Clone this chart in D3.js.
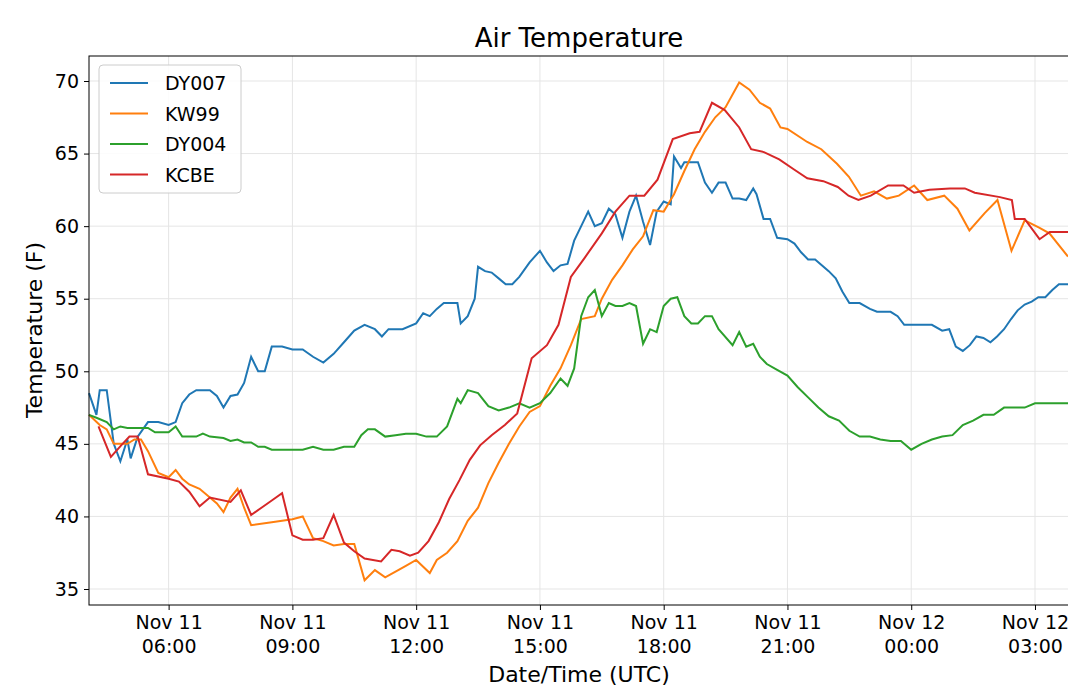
<!DOCTYPE html>
<html><head><meta charset="utf-8">
<script src="https://cdn.jsdelivr.net/npm/d3@7"></script>
<style>body{margin:0;background:#fff}text{font-family:"DejaVu Sans",sans-serif}</style>
</head><body>
<script>
// hours since Nov 11 00:00 UTC
const dy007T = [4.07,4.25,4.33,4.5,4.67,4.83,5,5.08,5.25,5.5,5.75,6,6.17,6.33,6.5,6.67,7,7.17,7.33,7.5,7.67,7.83,8,8.17,8.33,8.5,8.75,9,9.25,9.5,9.75,10,10.25,10.5,10.75,11,11.17,11.33,11.67,12,12.17,12.33,12.5,12.67,13,13.08,13.25,13.42,13.5,13.67,13.83,14,14.17,14.33,14.5,14.75,15,15.17,15.33,15.5,15.67,15.83,16,16.17,16.33,16.5,16.67,16.83,17,17.17,17.33,17.5,17.67,17.83,18,18.17,18.25,18.42,18.5,18.83,19,19.17,19.33,19.5,19.67,19.83,20,20.17,20.25,20.42,20.58,20.75,21,21.17,21.33,21.5,21.67,22,22.17,22.33,22.5,22.75,23,23.17,23.5,23.67,23.83,24,24.5,24.75,24.92,25.08,25.25,25.42,25.58,25.75,25.92,26.08,26.25,26.42,26.58,26.75,26.92,27.08,27.25,27.42,27.58,27.8];
const dy007 = [48.5,47,48.7,48.7,45,43.8,45.3,44,45.5,46.5,46.5,46.3,46.5,47.8,48.4,48.7,48.7,48.3,47.5,48.3,48.4,49.2,51,50,50,51.7,51.7,51.5,51.5,51,50.6,51.2,52,52.8,53.2,52.9,52.4,52.9,52.9,53.3,54,53.8,54.3,54.7,54.7,53.3,53.8,55,57.2,56.9,56.8,56.4,56,56,56.5,57.5,58.3,57.5,56.9,57.3,57.4,59,60,61,60,60.2,61.2,60.8,59.2,61,62.1,60.3,58.7,61,61.7,61.5,64.8,64,64.4,64.4,63,62.3,63,63,61.9,61.9,61.8,62.6,62.2,60.5,60.5,59.2,59.1,58.8,58.2,57.7,57.7,56.9,56.4,55.5,54.7,54.7,54.3,54.1,54.1,53.8,53.2,53.2,53.2,52.8,52.9,51.7,51.4,51.8,52.4,52.3,52,52.4,52.9,53.6,54.2,54.6,54.8,55.1,55.1,55.6,56,56];

const kw99T = [4.07,4.33,4.5,4.67,5,5.17,5.33,5.5,5.75,6,6.17,6.33,6.5,6.75,7,7.17,7.33,7.5,7.67,7.83,8,8.5,9,9.25,9.5,9.75,10,10.25,10.5,10.75,11,11.25,11.5,11.75,12,12.33,12.5,12.75,13,13.25,13.5,13.75,14,14.25,14.5,14.75,15,15.25,15.5,15.75,16,16.33,16.5,16.75,17,17.25,17.5,17.75,18,18.25,18.5,18.75,19,19.25,19.5,19.83,20.08,20.33,20.58,20.83,21,21.48,21.82,22.2,22.49,22.78,23.1,23.41,23.7,24.07,24.39,24.8,25.12,25.41,25.78,26.09,26.43,26.75,27.1,27.35,27.8];
const kw99 = [47,46.3,46,45,45,45.3,45.3,44.5,43,42.7,43.2,42.6,42.2,41.9,41.3,40.9,40.3,41.3,41.9,40.6,39.4,39.6,39.8,40,38.5,38.3,38,38.1,38.1,35.6,36.3,35.8,36.2,36.6,37,36.1,37,37.5,38.3,39.7,40.6,42.3,43.7,45,46.2,47.2,47.6,49,50.2,51.8,53.6,53.8,55,56.3,57.3,58.4,59.3,61.1,61,62.2,63.8,65.3,66.5,67.5,68.2,69.9,69.4,68.5,68.1,66.8,66.7,65.8,65.3,64.3,63.4,62.1,62.4,61.9,62.1,62.8,61.8,62.1,61.2,59.7,60.9,61.8,58.3,60.4,59.9,59.5,57.9];

const dy004T = [4.07,4.25,4.5,4.67,4.83,5,5.5,5.67,6,6.17,6.33,6.67,6.83,7,7.33,7.5,7.67,7.83,8,8.17,8.33,8.5,9,9.25,9.5,9.75,10,10.25,10.5,10.67,10.83,11,11.25,11.5,11.75,12,12.25,12.5,12.75,13,13.08,13.25,13.5,13.75,14,14.25,14.5,14.75,15,15.25,15.5,15.67,15.83,16,16.17,16.33,16.5,16.67,16.83,17,17.17,17.33,17.5,17.67,17.83,18,18.17,18.33,18.5,18.67,18.83,19,19.17,19.33,19.67,19.83,20,20.17,20.33,20.5,20.75,21,21.25,21.5,21.75,22,22.25,22.5,22.75,23,23.25,23.5,23.75,24,24.25,24.5,24.75,25,25.25,25.5,25.75,26,26.25,26.75,27,27.8];
const dy004 = [47,46.8,46.5,46,46.2,46.1,46.1,45.8,45.8,46.2,45.5,45.5,45.7,45.5,45.4,45.2,45.3,45.1,45.1,44.8,44.8,44.6,44.6,44.6,44.8,44.6,44.6,44.8,44.8,45.6,46,46,45.5,45.6,45.7,45.7,45.5,45.5,46.2,48.1,47.8,48.7,48.5,47.6,47.3,47.5,47.8,47.5,47.8,48.5,49.5,49,50.2,53.8,55.1,55.6,53.8,54.7,54.5,54.5,54.7,54.5,51.9,52.9,52.7,54.5,55,55.1,53.8,53.3,53.3,53.8,53.8,52.9,51.8,52.7,51.7,51.9,51,50.5,50.1,49.7,48.9,48.2,47.5,46.9,46.6,45.9,45.5,45.5,45.3,45.2,45.2,44.6,45,45.3,45.5,45.6,46.3,46.6,47,47,47.5,47.5,47.8,47.8];

const kcbeT = [4.3,4.6,4.85,5.05,5.25,5.5,6,6.25,6.5,6.75,7,7.5,7.75,8,8.25,8.5,8.75,9,9.25,9.5,9.75,10,10.25,10.5,10.75,11.15,11.4,11.6,11.85,12.05,12.3,12.55,12.8,13.05,13.3,13.55,13.83,14.15,14.45,14.8,15.17,15.45,15.75,16.08,16.5,16.83,17.17,17.53,17.85,18.22,18.63,18.87,19.17,19.48,19.83,20.12,20.43,20.8,21.16,21.48,21.87,22.22,22.48,22.72,23.02,23.44,23.81,24.07,24.44,24.94,25.3,25.54,26.15,26.44,26.51,26.75,27.11,27.36,27.8];
const kcbe = [46.2,44.1,44.9,45.5,45.5,42.9,42.6,42.4,41.7,40.7,41.3,41,41.8,40.1,40.6,41.1,41.6,38.7,38.4,38.4,38.5,40.1,38.2,37.6,37.1,36.9,37.7,37.6,37.3,37.5,38.3,39.6,41.2,42.5,43.9,44.9,45.6,46.3,47.1,50.9,51.8,53.2,56.5,57.8,59.5,61,62.1,62.1,63.2,66,66.4,66.5,68.5,68,66.8,65.3,65.1,64.6,63.9,63.3,63.1,62.7,62.1,61.8,62.1,62.8,62.8,62.3,62.5,62.6,62.6,62.3,62,61.8,60.5,60.5,59.1,59.6,59.6];

const series = [
  {name:"DY007", t:dy007T, v:dy007, color:"#1f77b4"},
  {name:"KW99", t:kw99T, v:kw99, color:"#ff7f0e"},
  {name:"DY004", t:dy004T, v:dy004, color:"#2ca02c"},
  {name:"KCBE", t:kcbeT, v:kcbe, color:"#d62728"}
];
const xTicks = [6,9,12,15,18,21,24,27];
const xTickLabels = [["Nov 11","06:00"],["Nov 11","09:00"],["Nov 11","12:00"],["Nov 11","15:00"],["Nov 11","18:00"],["Nov 11","21:00"],["Nov 12","00:00"],["Nov 12","03:00"]];
const yTicks = [35,40,45,50,55,60,65,70];

const W = 1068, H = 691;
const m = {left:89, right:1068, top:56, bottom:605};
const svg = d3.select("body").append("svg").attr("width", W).attr("height", H);

const x = d3.scaleLinear().domain([4.07, 27.8]).range([m.left, m.right]);
const y = d3.scaleLinear().domain([35, 70]).range([589, 81]);

svg.append("g").selectAll("line").data(xTicks).join("line")
  .attr("x1", d => x(d)).attr("x2", d => x(d)).attr("y1", m.top).attr("y2", m.bottom)
  .attr("stroke", "#e5e5e5").attr("stroke-width", 1);
svg.append("g").selectAll("line").data(yTicks).join("line")
  .attr("x1", m.left).attr("x2", m.right).attr("y1", d => y(d)).attr("y2", d => y(d))
  .attr("stroke", "#e5e5e5").attr("stroke-width", 1);

const line = d3.line().x(d => x(d[0])).y(d => y(d[1]));
series.forEach(s => {
  svg.append("path").datum(s.t.map((t, i) => [t, s.v[i]]))
    .attr("d", line).attr("fill", "none").attr("stroke", s.color).attr("stroke-width", 2);
});

const gx = svg.append("g").attr("transform", `translate(0,${m.bottom})`)
  .call(d3.axisBottom(x).tickValues(xTicks).tickSize(5).tickFormat(""));
gx.select(".domain").remove();
gx.selectAll(".tick").each(function(d, i) {
  const t = d3.select(this).append("text").attr("fill", "#000").attr("font-size", 19).attr("text-anchor", "middle");
  t.append("tspan").attr("x", 0).attr("y", 24).text(xTickLabels[i][0]);
  t.append("tspan").attr("x", 0).attr("y", 48).text(xTickLabels[i][1]);
});
const gy = svg.append("g").attr("transform", `translate(${m.left},0)`)
  .call(d3.axisLeft(y).tickValues(yTicks).tickSize(5));
gy.select(".domain").remove();
gy.selectAll("text").attr("font-size", 19).attr("fill", "#000").attr("dx", -2);

svg.append("rect").attr("x", m.left).attr("y", m.top).attr("width", m.right - m.left + 2)
  .attr("height", m.bottom - m.top).attr("fill", "none").attr("stroke", "#000").attr("stroke-width", 1);

svg.append("text").attr("x", 579).attr("y", 47).attr("text-anchor", "middle").attr("font-size", 26).text("Air Temperature");
svg.append("text").attr("x", 579).attr("y", 682).attr("text-anchor", "middle").attr("font-size", 22).text("Date/Time (UTC)");
svg.append("text").attr("transform", "translate(42,330) rotate(-90)").attr("text-anchor", "middle").attr("font-size", 22).text("Temperature (F)");

const lg = svg.append("g");
lg.append("rect").attr("x", 99).attr("y", 65).attr("width", 142).attr("height", 128).attr("rx", 4)
  .attr("fill", "#fff").attr("fill-opacity", 0.85).attr("stroke", "#ccc");
series.forEach((s, i) => {
  const yy = 83 + i * 30.5;
  lg.append("line").attr("x1", 110).attr("x2", 148).attr("y1", yy).attr("y2", yy).attr("stroke", s.color).attr("stroke-width", 2);
  lg.append("text").attr("x", 165).attr("y", yy + 7).attr("font-size", 19).text(s.name);
});
</script>
</body></html>
